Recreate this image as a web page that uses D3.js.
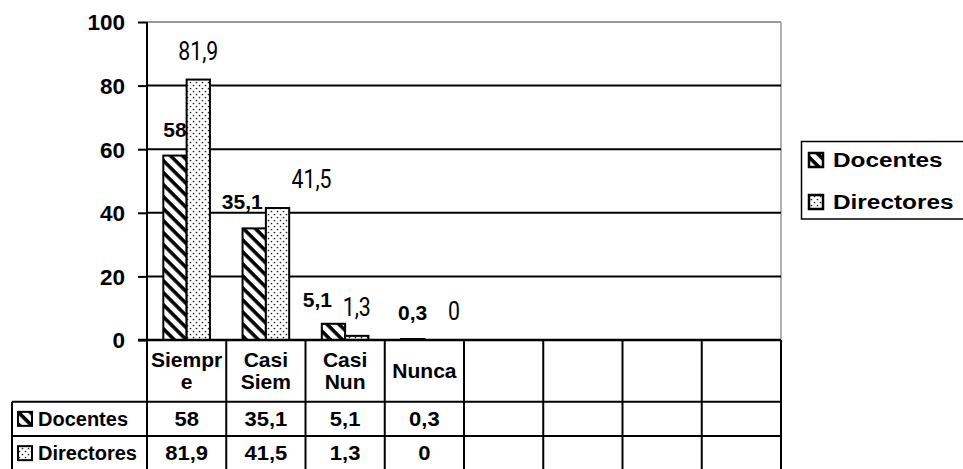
<!DOCTYPE html>
<html>
<head>
<meta charset="utf-8">
<script src="https://cdn.jsdelivr.net/npm/d3@7"></script>
<style>
  body { margin: 0; background: #fff; }
  svg { display: block; }
</style>
</head>
<body>
<svg id="chart" width="963" height="469"></svg>
<script>
// data
const categories = ["Siempre", "Casi Siem", "Casi Nun", "Nunca"];
const categoryLines = [["Siempr", "e"], ["Casi", "Siem"], ["Casi", "Nun"], ["Nunca"]];
const seriesNames = ["Docentes", "Directores"];
const docentes = [58, 35.1, 5.1, 0.3];
const directores = [81.9, 41.5, 1.3, 0];
const yTicks = [0, 20, 40, 60, 80, 100];
const blankColumns = 4;

// little nudges of the data labels, as they sit in the original
const labelNudge = [[0, -12, -16, 0], [0, 34, 0, 18]];

const seriesValues = [docentes, directores];
const fmt = d => String(d).replace(".", ",");

const svg = d3.select("#chart");
const plotLeft = 147, plotRight = 781, plotTop = 22, plotBottom = 340;
const headerH = 61.7, rowH = 34.3;
const boldFont = "'Liberation Sans', Arial, sans-serif";

const slots = d3.range(categories.length + blankColumns);
const x = d3.scaleBand().domain(slots).range([plotLeft, plotRight]);
const inner = d3.scaleBand().domain(seriesNames).range([0, x.bandwidth()]).paddingOuter(0.7);
const y = d3.scaleLinear().domain([0, 100]).range([plotBottom, plotTop]);

// patterns
const defs = svg.append("defs");
const hatch = defs.append("pattern")
  .attr("id", "hatch")
  .attr("patternUnits", "userSpaceOnUse")
  .attr("width", 8.5).attr("height", 8.5)
  .attr("patternTransform", "rotate(-45)");
hatch.append("rect").attr("width", 8.5).attr("height", 8.5).attr("fill", "#fff");
hatch.append("line")
  .attr("x1", 2).attr("x2", 2).attr("y1", 0).attr("y2", 8.5)
  .attr("stroke", "#000").attr("stroke-width", 3.6);

const dots = defs.append("pattern")
  .attr("id", "dots")
  .attr("patternUnits", "userSpaceOnUse")
  .attr("width", 6).attr("height", 6);
dots.append("rect").attr("width", 6).attr("height", 6).attr("fill", "#fff");
dots.selectAll("circle").data([[1.5, 1.5], [4.5, 4.5]]).enter().append("circle")
  .attr("cx", d => d[0]).attr("cy", d => d[1]).attr("r", 0.85).attr("fill", "#222");

const fills = ["url(#hatch)", "url(#dots)"];

// plot frame and gridlines
svg.append("line")
  .attr("x1", plotLeft).attr("x2", plotRight).attr("y1", y(100)).attr("y2", y(100))
  .attr("stroke", "#777").attr("stroke-width", 1.5);
svg.append("line")
  .attr("x1", plotRight).attr("x2", plotRight).attr("y1", y(100)).attr("y2", plotBottom)
  .attr("stroke", "#999").attr("stroke-width", 1.5);
svg.append("g").selectAll("line")
  .data(yTicks.filter(t => t > 0 && t < 100))
  .enter().append("line")
  .attr("x1", plotLeft).attr("x2", plotRight)
  .attr("y1", d => y(d)).attr("y2", d => y(d))
  .attr("stroke", "#000").attr("stroke-width", 2);

// bars
seriesNames.forEach((name, s) => {
  svg.append("g").selectAll("rect")
    .data(seriesValues[s])
    .enter().append("rect")
    .attr("x", (d, i) => x(i) + inner(name))
    .attr("y", d => y(d))
    .attr("width", inner.bandwidth())
    .attr("height", d => plotBottom - y(d))
    .attr("fill", fills[s])
    .attr("stroke", "#000")
    .attr("stroke-width", 2);
});

// data labels
svg.append("g").selectAll("text")
  .data(docentes)
  .enter().append("text")
  .attr("x", (d, i) => x(i) + inner("Docentes") + inner.bandwidth() / 2 + labelNudge[0][i])
  .attr("y", (d, i) => y(d) - (i == 2 ? 17 : 19))
  .attr("text-anchor", "middle")
  .attr("font-family", boldFont)
  .attr("font-weight", "bold")
  .attr("font-size", 21)
  .text(fmt);

svg.append("g").selectAll("text")
  .data(directores)
  .enter().append("text")
  .attr("transform", (d, i) => "translate(" + (x(i) + inner("Directores") + inner.bandwidth() / 2 + labelNudge[1][i]) + "," + (y(d) - 20) + ") scale(0.85,1)")
  .attr("text-anchor", "middle")
  .attr("font-family", "Roboto, 'Liberation Sans', sans-serif")
  .attr("font-size", 25)
  .text(fmt);

// y axis
const yAxis = svg.append("g")
  .attr("transform", "translate(" + plotLeft + ",0)")
  .call(d3.axisLeft(y).tickValues(yTicks).tickSize(9).tickPadding(13).tickFormat(d3.format("d")));
yAxis.select(".domain").remove();
yAxis.selectAll(".tick line").attr("stroke", "#000").attr("stroke-width", 2);
yAxis.selectAll(".tick text")
  .attr("font-family", boldFont)
  .attr("font-weight", "bold")
  .attr("font-size", 22.5)
  .attr("fill", "#000")
  .attr("dy", "0.35em");

// data table
const table = svg.append("g");
const tableBottom = plotBottom + headerH + rowH * 2;
// vertical lines of the columns
table.selectAll("line.col")
  .data(slots.concat([slots.length]))
  .enter().append("line")
  .attr("x1", d => d < slots.length ? x(d) : plotRight)
  .attr("x2", d => d < slots.length ? x(d) : plotRight)
  .attr("y1", plotBottom).attr("y2", tableBottom)
  .attr("stroke", "#000").attr("stroke-width", 2);
// row lines
[plotBottom + headerH, plotBottom + headerH + rowH, tableBottom].forEach(ry => {
  table.append("line")
    .attr("x1", 12).attr("x2", plotRight).attr("y1", ry).attr("y2", ry)
    .attr("stroke", "#000").attr("stroke-width", 2);
});
table.append("line")
  .attr("x1", 12).attr("x2", 12).attr("y1", plotBottom + headerH).attr("y2", tableBottom)
  .attr("stroke", "#000").attr("stroke-width", 2);

// header cells
const headerCenter = plotBottom + headerH / 2;
categoryLines.forEach((lines, i) => {
  lines.forEach((ln, k) => {
    const ty = headerCenter + 7 + (k - (lines.length - 1) / 2) * 21.7;
    table.append("text")
      .attr("transform", "translate(" + (x(i) + x.bandwidth() / 2) + "," + ty + ") scale(1.08,1)")
      .attr("text-anchor", "middle")
      .attr("font-family", boldFont)
      .attr("font-weight", "bold")
      .attr("font-size", 19.5)
      .text(ln);
  });
});

// values rows
seriesNames.forEach((name, s) => {
  const rowTop = plotBottom + headerH + rowH * s;
  table.append("g").selectAll("text")
    .data(seriesValues[s])
    .enter().append("text")
    .attr("transform", (d, i) => "translate(" + (x(i) + x.bandwidth() / 2) + "," + (rowTop + rowH / 2 + 7) + ") scale(1.1,1)")
    .attr("text-anchor", "middle")
    .attr("font-family", boldFont)
    .attr("font-weight", "bold")
    .attr("font-size", 20)
    .text(fmt);
  table.append("rect")
    .attr("x", 18).attr("y", rowTop + rowH / 2 - 7)
    .attr("width", 14).attr("height", 14)
    .attr("fill", fills[s]).attr("stroke", "#000").attr("stroke-width", 2);
  table.append("text")
    .attr("x", 38).attr("y", rowTop + rowH / 2 + 7)
    .attr("font-family", boldFont)
    .attr("font-weight", "bold")
    .attr("font-size", 20)
    .text(name);
});

// y axis line (runs down through the table)
svg.append("line")
  .attr("x1", plotLeft).attr("x2", plotLeft).attr("y1", plotTop).attr("y2", tableBottom)
  .attr("stroke", "#000").attr("stroke-width", 2);
// x axis line
svg.append("line")
  .attr("x1", plotLeft - 9).attr("x2", plotRight).attr("y1", plotBottom).attr("y2", plotBottom)
  .attr("stroke", "#000").attr("stroke-width", 2.5);

// legend
const legend = svg.append("g");
legend.append("rect")
  .attr("x", 801.5).attr("y", 141.5).attr("width", 170).attr("height", 77.5)
  .attr("fill", "#fff").attr("stroke", "#000").attr("stroke-width", 1.5);
seriesNames.forEach((name, s) => {
  const cy = 160 + s * 42;
  legend.append("rect")
    .attr("x", 809).attr("y", cy - 7).attr("width", 14).attr("height", 14)
    .attr("fill", fills[s]).attr("stroke", "#000").attr("stroke-width", 2.5);
  legend.append("text")
    .attr("transform", "translate(833," + (cy + 7) + ") scale(1.25,1)")
    .attr("font-family", boldFont)
    .attr("font-weight", "bold")
    .attr("font-size", 19.5)
    .text(name);
});
</script>
</body>
</html>
